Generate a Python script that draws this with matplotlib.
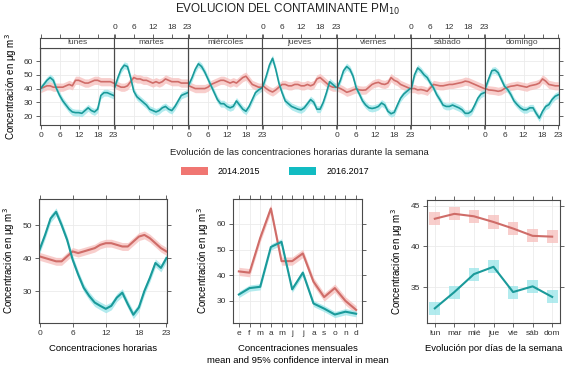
import numpy as np
import matplotlib
matplotlib.use('Agg')
import matplotlib.pyplot as plt
from matplotlib.patches import Patch

plt.rcParams['font.family'] = ['Liberation Sans', 'DejaVu Sans']
plt.rcParams['font.size'] = 6.3

# ---------------- datos ----------------
series = ['2014.2015', '2016.2017']
dias_largo = ['lunes', 'martes', 'miércoles', 'jueves', 'viernes', 'sábado', 'domingo']
dias_corto = ['lun', 'mar', 'mié', 'jue', 'vie', 'sáb', 'dom']
meses = ['e', 'f', 'm', 'a', 'm', 'j', 'j', 'a', 's', 'o', 'n', 'd']
horas = list(range(24))

# media horaria por dia de la semana (lunes..domingo)
semana_1415 = [
    [40, 41, 42, 42, 41, 41, 41, 41, 42, 43, 42, 46, 46, 45, 44, 44, 45, 46, 46, 45, 45, 45, 45, 44],
    [43, 42, 41, 41, 42, 45, 48, 47, 47, 46, 46, 45, 44, 45, 44, 45, 47, 46, 45, 45, 45, 44, 44, 44],
    [42, 41, 40, 40, 40, 40, 41, 43, 44, 45, 46, 46, 45, 44, 45, 44, 46, 48, 49, 46, 43, 42, 41, 41],
    [42, 40, 38.5, 37.5, 39, 41, 43, 43, 42, 42, 43, 43, 42, 42, 43, 42, 43, 47, 48, 46, 44, 42, 41, 41],
    [41, 40, 38.8, 37.3, 38, 39, 39.8, 39, 38.8, 39, 41, 43, 44, 44.5, 43.4, 43, 44, 48, 46, 45, 43, 42, 41, 40],
    [40, 40, 39, 39.3, 38.8, 38, 40.5, 43, 42.5, 42, 42, 42.5, 43, 43, 43.5, 44, 44.5, 45.4, 45, 44, 43, 42, 41, 40],
    [40, 39, 38.8, 38.5, 38, 38.5, 40, 41, 41.7, 42, 42.5, 42, 41.5, 41, 42, 42.5, 43, 44, 47, 45.4, 43, 42.5, 42, 42],
]
semana_1617 = [
    [40, 43, 46, 48, 46, 40, 35, 31, 28, 25, 23, 22.5, 22.5, 22, 24, 26, 24, 23, 25, 35, 37, 37, 36, 35],
    [41, 48, 54, 57, 56, 48, 38, 34, 32, 30, 28, 25, 24, 23, 24, 26, 27, 25, 24, 27, 31, 35, 36, 37],
    [43, 48, 54, 58, 56, 52, 47, 42, 37, 32, 29, 29, 27, 26, 27, 31, 28, 25, 23.5, 27, 32, 37, 39, 40.5],
    [42, 49, 57, 62, 54, 44, 37, 31, 29, 27, 26, 25, 24.5, 26, 29, 32, 30, 25, 25, 30, 37, 45, 43, 41],
    [40.5, 46, 53, 56, 54, 49, 40.5, 36, 31, 28, 26, 25.5, 26, 27, 29.5, 28, 23.5, 21.7, 22.7, 28, 33, 36, 38, 40],
    [40, 50, 55, 53, 50, 48, 44, 40.5, 35.6, 32, 28, 27, 27, 28, 27, 26, 24.6, 22, 22, 23.5, 28, 33, 36, 37],
    [40.5, 47, 53, 53.5, 51.5, 46.6, 41.7, 39.3, 35.6, 31, 28.3, 26, 24.6, 24.6, 26, 26, 22, 18.5, 23.4, 27, 28.3, 32, 34.4, 35.5],
]
ic_semana = [3.0, 2.5]     # semiancho del intervalo de confianza

hora_1415 = [40.5, 40, 39.5, 39, 39, 40.5, 42, 41.5, 42, 42.5, 43, 44, 44.5, 44.5, 44, 43.5, 43.5, 45, 46.5, 47, 46, 44.5, 43, 42]
hora_1617 = [42.5, 47, 52, 54, 50, 45.5, 39.5, 35, 31, 28.5, 26.5, 25.5, 24.6, 25.5, 28, 29.5, 26, 22.8, 25, 30, 34, 38.5, 37, 40]
ic_hora = [1.2, 1.2]

mes_1415 = [41.5, 41, 54.5, 66, 45.5, 45.5, 48.5, 37.5, 31.5, 35, 30, 26.5]
mes_1617 = [32.5, 35, 35.5, 51, 53, 34.5, 41, 29, 27, 24.7, 25.8, 25]
ic_mes = [1.6, 1.2]

dia_1415 = [43.4, 44.0, 43.7, 43.0, 42.2, 41.3, 41.2]
dia_1617 = [32.4, 34.4, 36.6, 37.5, 34.4, 35.1, 33.8]
ic_dia = [0.8, 0.8]

# ---------------- estilo ----------------
linea = ['#cf6c68', '#1a9a9a']
relleno = ['#f7c2c0', '#9fe6ea']
leyenda = ['#f07672', '#12bcc2']
borde = '#4a4a4a'
ylab = 'Concentración en μg m$^3$'

W, H = 567, 369
fig = plt.figure(figsize=(W / 100, H / 100), dpi=100)


def caja(x0, y0, x1, y1):
    return [x0 / W, 1 - y1 / H, (x1 - x0) / W, (y1 - y0) / H]


def estilo(ax):
    for s in ax.spines.values():
        s.set_color(borde)
        s.set_linewidth(0.8)
    ax.tick_params(direction='out', length=3, width=0.6, color=borde,
                   labelcolor='#333333', labelsize=6, pad=2)
    ax.grid(True, color='#ebebeb', lw=0.6)
    ax.set_axisbelow(True)


# ---------------- panel semanal ----------------
x_ini, x_fin = 40, 559
ancho = (x_fin - x_ini) / 7
for i in range(7):
    x0 = x_ini + i * ancho
    ax = fig.add_axes(caja(x0, 48, x0 + ancho, 125))
    estilo(ax)
    for k, datos in enumerate([semana_1415, semana_1617]):
        v = np.array(datos[i])
        ax.fill_between(horas, v - ic_semana[k], v + ic_semana[k], color=relleno[k], lw=0, alpha=0.8)
    for k, datos in enumerate([semana_1415, semana_1617]):
        ax.plot(horas, datos[i], color=linea[k], lw=1.2)
    ax.set_xlim(-0.2, 23.2)
    ax.set_ylim(13.5, 69.5)
    ax.set_xticks([0, 6, 12, 18, 23])
    ax.set_yticks([20, 30, 40, 50, 60])
    ax.tick_params(axis='x', labelbottom=(i % 2 == 0))
    ax.tick_params(axis='y', left=(i == 0), labelleft=(i == 0), right=(i == 6), labelright=False)
    if i == 0:
        ax.set_ylabel(ylab, fontsize=7, labelpad=3)

    tira = fig.add_axes(caja(x0, 38, x0 + ancho, 48))
    estilo(tira)
    tira.grid(False)
    tira.set_xlim(-0.2, 23.2)
    tira.set_xticks([0, 6, 12, 18, 23])
    tira.set_yticks([])
    tira.tick_params(axis='x', bottom=False, labelbottom=False, top=True, labeltop=(i % 2 == 1))
    tira.text(0.5, 0.5, dias_largo[i], transform=tira.transAxes, ha='center', va='center',
              fontsize=6, color='#444444')

fig.text((x_ini + x_fin) / 2 / W, 1 - 153 / H, 'Evolución de las concentraciones horarias durante la semana',
         ha='center', va='center', fontsize=6.8, color='#222222')
fig.text(288 / W, 1 - 9 / H, 'EVOLUCION DEL CONTAMINANTE PM$_{10}$', ha='center', va='center',
         fontsize=8.5, color='#222222')

# leyenda
manijas = [Patch(facecolor=leyenda[k], edgecolor='none') for k in range(2)]
fig.legend(manijas, series, loc='center', bbox_to_anchor=(275 / W, 1 - 171.5 / H), ncol=2,
           frameon=False, fontsize=6.5, handlelength=3.0, handleheight=0.9,
           handletextpad=1.1, columnspacing=3.2)

# ---------------- panel horario ----------------
ax = fig.add_axes(caja(39, 199, 167, 323))
estilo(ax)
for k, v in enumerate([hora_1415, hora_1617]):
    v = np.array(v)
    ax.fill_between(horas, v - ic_hora[k], v + ic_hora[k], color=relleno[k], lw=0, alpha=0.8)
for k, v in enumerate([hora_1415, hora_1617]):
    ax.plot(horas, v, color=linea[k], lw=1.5)
ax.set_xlim(-0.1, 23.1)
ax.set_ylim(20.3, 57.9)
ax.set_xticks([0, 6, 12, 18, 23])
ax.set_yticks([30, 40, 50])
ax.tick_params(top=True, right=True)
ax.set_ylabel(ylab, fontsize=7, labelpad=4)
ax.set_xlabel('Concentraciones horarias', fontsize=6.8, labelpad=5)

# ---------------- panel mensual ----------------
ax = fig.add_axes(caja(233, 199, 362, 323))
estilo(ax)
x_mes = np.arange(1, 13)
for k, v in enumerate([mes_1415, mes_1617]):
    v = np.array(v)
    ax.fill_between(x_mes, v - ic_mes[k], v + ic_mes[k], color=relleno[k], lw=0, alpha=0.8)
for k, v in enumerate([mes_1415, mes_1617]):
    ax.plot(x_mes, v, color=linea[k], lw=1.5)
ax.set_xlim(0.45, 12.55)
ax.set_ylim(21.4, 69.7)
ax.set_xticks(x_mes)
ax.set_xticklabels(meses)
ax.set_yticks([30, 40, 50, 60])
ax.tick_params(top=True, right=True)
ax.set_ylabel(ylab, fontsize=7, labelpad=4)
ax.set_xlabel('Concentraciones mensuales\nmean and 95% confidence interval in mean',
              fontsize=6.8, labelpad=5, linespacing=1.5)

# ---------------- panel diario ----------------
ax = fig.add_axes(caja(427, 200, 560, 323))
estilo(ax)
x_dia = np.arange(1, 8)
for k, v in enumerate([dia_1415, dia_1617]):
    v = np.array(v)
    ax.bar(x_dia, 2 * ic_dia[k], bottom=v - ic_dia[k], width=0.55, color=relleno[k], lw=0, alpha=0.8)
for k, v in enumerate([dia_1415, dia_1617]):
    ax.plot(x_dia, v, color=linea[k], lw=1.5)
ax.set_xlim(0.6, 7.4)
ax.set_ylim(30.6, 45.7)
ax.set_xticks(x_dia)
ax.set_xticklabels(dias_corto)
ax.set_yticks([35, 40, 45])
ax.tick_params(top=True, right=True)
ax.set_ylabel(ylab, fontsize=7, labelpad=4)
ax.set_xlabel('Evolución por días de la semana', fontsize=6.8, labelpad=5)

fig.savefig('out.png', dpi=100)
